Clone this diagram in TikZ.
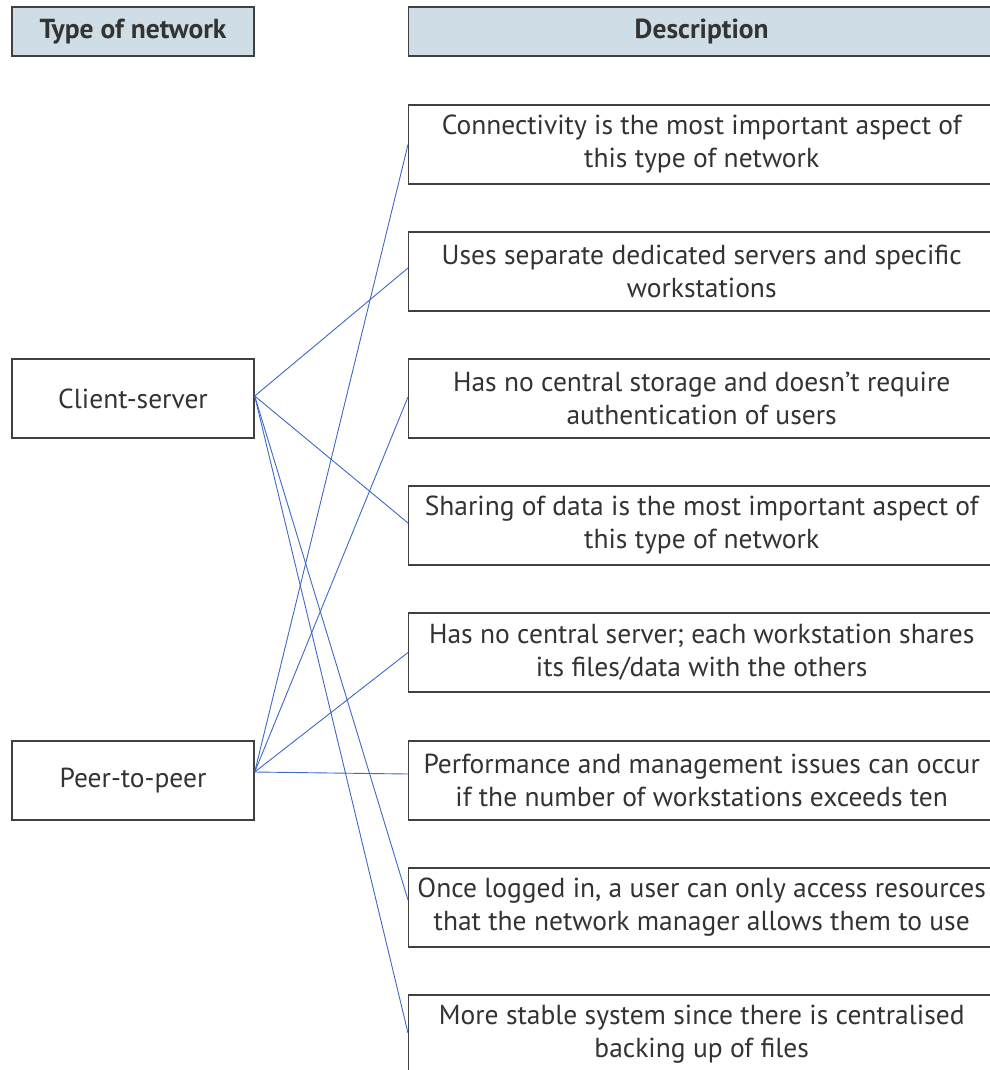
\documentclass[tikz,border=0pt]{standalone}
\usepackage{fontspec}
\setmainfont{PT Sans}
\begin{document}
\begin{tikzpicture}[x=1pt,y=-1pt,
  cell/.style={draw=black!75, line width=1.4pt, rectangle, inner sep=0pt,
    minimum height=79pt, align=center, text=black!80,
    font=\fontsize{27.5}{33}\selectfont},
  leftcell/.style={cell, minimum width=242pt},
  desccell/.style={cell, minimum width=586pt, anchor=west},
  headfill/.style={fill=headblue, minimum height=49pt, font=\fontsize{27.5}{33}\selectfont\bfseries},
  link/.style={draw=linkblue, line width=0.9pt}]
\definecolor{headblue}{HTML}{CFDEE6}
\definecolor{linkblue}{HTML}{3D68C8}
\useasboundingbox (0,0) rectangle (989,1070);
\node[leftcell, headfill] (h1) at (133,31.5) {Type of network};
\node[desccell, headfill] (h2) at (408,31.5) {Description};
\node[leftcell] (cs) at (133,398.5) {Client-server};
\node[leftcell] (pp) at (133,780.5) {Peer-to-peer};
\node[desccell] (d1) at (408,144.5) {Connectivity is the most important aspect of\\this type of network};
\node[desccell] (d2) at (408,271.5) {Uses separate dedicated servers and specific\\workstations};
\node[desccell] (d3) at (408,398.5) {Has no central storage and doesn’t require\\authentication of users};
\node[desccell] (d4) at (408,525.5) {Sharing of data is the most important aspect of\\this type of network};
\node[desccell] (d5) at (408,652.5) {Has no central server; each workstation shares\\its files/data with the others};
\node[desccell] (d6) at (408,780.5) {Performance and management issues can occur\\if the number of workstations exceeds ten};
\node[desccell] (d7) at (408,907.5) {Once logged in, a user can only access resources\\that the network manager allows them to use};
\node[desccell] (d8) at (408,1034.5) {More stable system since there is centralised\\backing up of files};
\coordinate (csa) at ([yshift=2.5pt]cs.east);
\coordinate (ppa) at ([yshift=8.5pt]pp.east);
\draw[link] (csa) -- ([yshift=3.5pt]d2.west);
\draw[link] (csa) -- ([yshift=2.5pt]d4.west);
\draw[link] (csa) -- ([yshift=7.5pt]d7.west);
\draw[link] (csa) -- ([yshift=1.5pt]d8.west);
\draw[link] (ppa) -- (d1.west);
\draw[link] (ppa) -- ([yshift=1.5pt]d3.west);
\draw[link] (ppa) -- (d5.west);
\draw[link] (ppa) -- ([yshift=6.5pt]d6.west);
\end{tikzpicture}
\end{document}
